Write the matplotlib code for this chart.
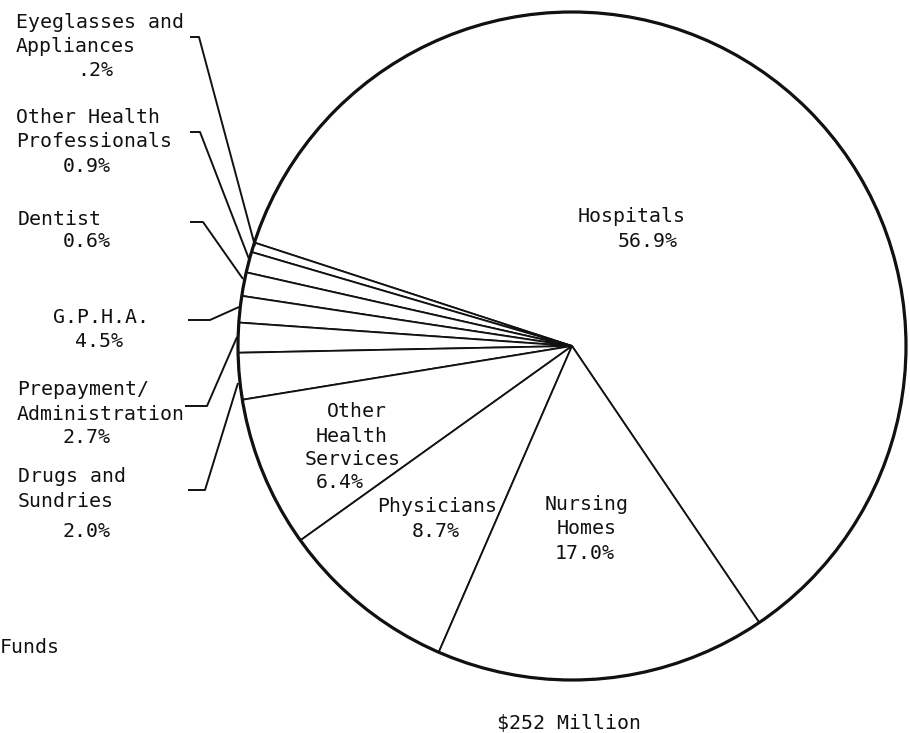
import matplotlib
matplotlib.use("Agg")
import matplotlib.pyplot as plt
from matplotlib.patches import Circle

# ---- data ----
categories = ["Hospitals", "Eyeglasses and\nAppliances", "Other Health\nProfessionals",
              "Dentist", "G.P.H.A.", "Prepayment/\nAdministration", "Drugs and\nSundries",
              "Other\nHealth\nServices", "Physicians", "Nursing\nHomes"]
# printed percentages
pct_labels = ["56.9%", ".2%", "0.9%", "0.6%", "4.5%", "2.7%", "2.0%", "6.4%", "8.7%", "17.0%"]
# slice sizes as drawn in the original (percent of circle)
drawn_share = [60.5, 0.47, 1.0, 1.14, 1.28, 1.44, 2.25, 7.31, 8.58, 16.0]
total_label = "$252 Million"

W, H = 910, 733
fig = plt.figure(figsize=(W / 100, H / 100), dpi=100)
ax = fig.add_axes([0, 0, 1, 1])

def Y(py):
    return H - py

cx, cy, r = 572, Y(346), 334
ax.pie(drawn_share, startangle=-55.9, counterclock=True, radius=r, center=(cx, cy),
       wedgeprops=dict(facecolor="white", edgecolor="#111111", linewidth=1.3),
       frame=False)
ax.add_patch(Circle((cx, cy), r, fill=False, edgecolor="#111111", linewidth=2.3, zorder=5))
ax.set_xlim(0, W)
ax.set_ylim(0, H)
ax.set_aspect("equal")
ax.axis("off")

FONT = dict(family="DejaVu Sans Mono", fontsize=14.3, color="#111111", va="baseline", ha="left")

def txt(x, y, s):
    ax.text(x, Y(y), s, **FONT)

def lines_at(x_list, y_list, text):
    for x, y, s in zip(x_list, y_list, text.split("\n")):
        txt(x, y, s)

# outside labels (left side)
lines_at([16, 16], [28, 52], categories[1]); txt(77, 76, pct_labels[1])
lines_at([16, 16], [123, 147], categories[2]); txt(63, 172, pct_labels[2])
lines_at([18], [225], categories[3]); txt(63, 247, pct_labels[3])
lines_at([53], [323], categories[4]); txt(75, 347, pct_labels[4])
lines_at([17, 17], [395, 420], categories[5]); txt(63, 443, pct_labels[5])
lines_at([18, 18], [482, 507], categories[6]); txt(63, 537, pct_labels[6])

# inside labels
txt(578, 222, categories[0]); txt(618, 247, pct_labels[0])
lines_at([327, 316, 305], [417, 442, 465], categories[7]); txt(316, 488, pct_labels[7])
txt(377, 512, categories[8]); txt(412, 537, pct_labels[8])
lines_at([545, 557], [510, 534], categories[9]); txt(555, 559, pct_labels[9])

# other text
txt(0, 653, "Funds")
txt(497, 729, total_label)

# leader lines
leaders = [
    [(190, 37), (199, 37), (255, 246)],
    [(190, 132), (200, 132), (249, 259)],
    [(190, 222), (203, 222), (243, 279)],
    [(188, 320), (210, 320), (239, 307)],
    [(185, 406), (207, 406), (237, 337)],
    [(188, 490), (205, 490), (238, 383)],
]
for pts in leaders:
    xs = [p[0] for p in pts]
    ys = [Y(p[1]) for p in pts]
    ax.plot(xs, ys, color="#111111", linewidth=1.4, solid_capstyle="butt", zorder=6)

fig.savefig("out.png", dpi=100, facecolor="white")
